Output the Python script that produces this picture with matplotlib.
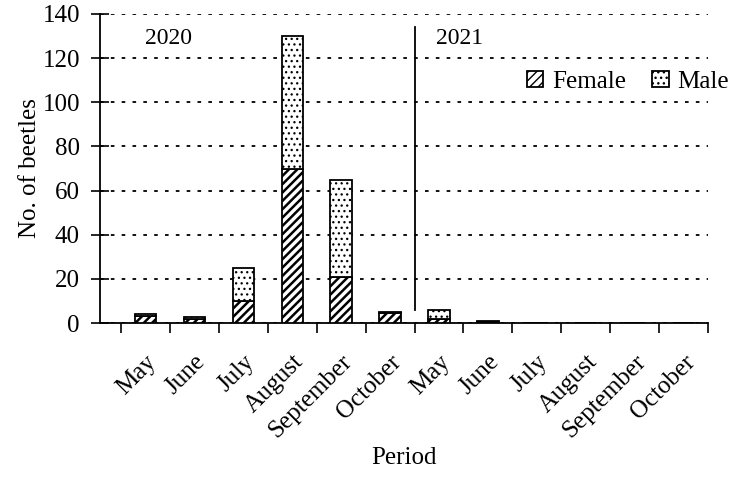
import matplotlib
matplotlib.use("Agg")
import matplotlib.pyplot as plt
import numpy as np

# donnees
months = ['May', 'June', 'July', 'August', 'September', 'October',
          'May', 'June', 'July', 'August', 'September', 'October']
female = [3, 2, 10, 70, 21, 4.5, 2, 0.5, 0, 0, 0, 0]
male = [1, 0.7, 15, 60, 44, 0.5, 4, 0.5, 0, 0, 0, 0]
yticks = [0, 20, 40, 60, 80, 100, 120, 140]

plt.rcParams['font.family'] = ['Liberation Serif', 'DejaVu Serif']
plt.rcParams['hatch.color'] = 'black'

fig = plt.figure(figsize=(7.3, 4.91), dpi=100)
ax = fig.add_axes([0.137, 0.342, 0.833, 0.6295])

x = np.arange(len(months))
with plt.rc_context({'hatch.linewidth': 1.8}):
    b1 = ax.bar(x, female, width=0.44, color='white', edgecolor='black',
                linewidth=1.3, hatch='////', label='Female', zorder=3)
with plt.rc_context({'hatch.linewidth': 0.9}):
    b2 = ax.bar(x, male, width=0.44, bottom=female, color='white', edgecolor='black',
                linewidth=1.3, hatch='...', label='Male', zorder=3)

# epaisseur des hachures par serie (matplotlib >= 3.10)
for bars, lw in [(b1, 1.8), (b2, 0.9)]:
    for p in bars:
        if hasattr(p, 'set_hatch_linewidth'):
            p.set_hatch_linewidth(lw)

ax.set_xlim(-0.93, 11.5)
ax.set_ylim(0, 140)
ax.set_yticks(yticks)
ax.set_xticks(np.arange(-0.5, 12, 1))
ax.set_xticklabels([])
ax.set_xticks(x, minor=True)
ax.set_xticklabels(months, minor=True, rotation=45, ha='right',
                   rotation_mode='anchor', fontsize=18)
ax.tick_params(axis='x', which='major', direction='out', length=7, width=1.2)
ax.tick_params(axis='x', which='minor', length=0, pad=20)
ax.tick_params(axis='y', direction='inout', length=13, width=1.2, labelsize=18, pad=8)

for s in ['top', 'right']:
    ax.spines[s].set_visible(False)
for s in ['left', 'bottom']:
    ax.spines[s].set_linewidth(1.3)

ax.yaxis.grid(True, linestyle=(0, (2, 4)), color='black', linewidth=1.3)
ax.set_axisbelow(True)

# separation 2020 / 2021
ax.plot([5.5, 5.5], [6, 134], color='black', linewidth=1.3)
ax.text(0.46, 129, '2020', fontsize=17, ha='center', va='center')
ax.text(6.41, 129, '2021', fontsize=17, ha='center', va='center')

ax.legend(loc='upper left', bbox_to_anchor=(0.702, 0.817), ncol=2, frameon=False,
          fontsize=18, handlelength=0.65, handleheight=0.65, handletextpad=0.36,
          columnspacing=1.05, borderpad=0, borderaxespad=0)

ax.set_ylabel('No. of beetles', fontsize=18, labelpad=1)
ax.set_xlabel('Period', fontsize=18, labelpad=3)

fig.savefig('out.png', dpi=100)
